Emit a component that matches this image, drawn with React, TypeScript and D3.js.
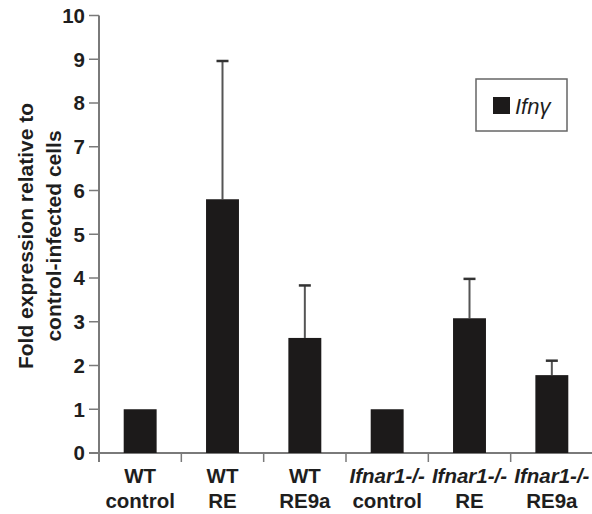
import React from "react";
import * as d3 from "d3";

const line1 = ["WT", "WT", "WT", "Ifnar1-/-", "Ifnar1-/-", "Ifnar1-/-"];
const line2 = ["control", "RE", "RE9a", "control", "RE", "RE9a"];
const italic1 = [false, false, false, true, true, true];
const values = [1, 5.8, 2.63, 1, 3.08, 1.78];
const errTop = [null, 8.96, 3.83, null, 3.98, 2.11];
const yTicks = [0, 1, 2, 3, 4, 5, 6, 7, 8, 9, 10];
const legendLabel = "Ifnγ";

export default function App() {
  const W = 592, H = 514;
  const x = d3.scaleBand<number>().domain(d3.range(values.length)).range([99, 593]).paddingInner(0.6).paddingOuter(0.3);
  const band = d3.scaleBand<number>().domain(d3.range(values.length)).range([99, 593]);
  const y = d3.scaleLinear().domain([0, 10]).range([453, 15.5]);
  const axisColor = "#7a7a7a";
  const font = "Liberation Sans, Arial, sans-serif";
  const textColor = "#1e1e1e";
  return (
    <svg width={W} height={H} style={{ position: "absolute", left: 0, top: 0 }} fontFamily={font}>
      <rect width={W} height={H} fill="#fff" />
      {/* y axis */}
      <line x1={99} x2={99} y1={y(10)} y2={462} stroke={axisColor} strokeWidth={2} />
      {yTicks.map((t) => (
        <g key={t}>
          <line x1={89} x2={99} y1={y(t)} y2={y(t)} stroke={axisColor} strokeWidth={1.5} />
          <text x={85} y={y(t)} dy="0.36em" textAnchor="end" fontWeight="bold" fontSize={20.5} fill={textColor}>{t}</text>
        </g>
      ))}
      {/* x axis */}
      <line x1={89} x2={593} y1={y(0)} y2={y(0)} stroke={axisColor} strokeWidth={2} />
      {d3.range(values.length).map((i) => (
        <line key={i} x1={band(i)! + band.bandwidth()} x2={band(i)! + band.bandwidth()} y1={y(0)} y2={462} stroke={axisColor} strokeWidth={1.5} />
      ))}
      {/* bars */}
      {values.map((v, i) => {
        const cx = x(i)! + x.bandwidth() / 2;
        const e = errTop[i];
        return (
          <g key={i}>
            {e !== null && (
              <g>
                <line x1={cx} x2={cx} y1={y(v)} y2={y(e)} stroke="#555" strokeWidth={2} />
                <line x1={cx - 6} x2={cx + 6} y1={y(e)} y2={y(e)} stroke="#333" strokeWidth={2.5} />
              </g>
            )}
            <rect x={x(i)} y={y(v)} width={x.bandwidth()} height={y(0) - y(v)} fill="#1c1a1a" />
          </g>
        );
      })}
      {/* x labels */}
      {d3.range(values.length).map((i) => {
        const cx = band(i)! + band.bandwidth() / 2;
        return (
          <g key={i}>
            <text x={cx} y={483} textAnchor="middle" fontWeight="bold" fontSize={20.5} fill={textColor} fontStyle={italic1[i] ? "italic" : "normal"}>{line1[i]}</text>
            <text x={cx} y={508} textAnchor="middle" fontWeight="bold" fontSize={20.5} fill={textColor}>{line2[i]}</text>
          </g>
        );
      })}
      {/* y label */}
      <g transform="translate(0,236) rotate(-90)">
        <text x={0} y={33} textAnchor="middle" fontWeight="bold" fontSize={21} fill={textColor}>Fold expression relative to</text>
        <text x={0} y={61} textAnchor="middle" fontWeight="bold" fontSize={21} fill={textColor}>control-infected cells</text>
      </g>
      {/* legend */}
      <rect x={476} y={79} width={91} height={52} fill="none" stroke="#666" strokeWidth={1.5} />
      <rect x={493} y={97} width={17} height={17} fill="#1c1a1a" />
      <text x={515} y={114} fontSize={22} fontStyle="italic" fill={textColor}>{legendLabel}</text>
    </svg>
  );
}
